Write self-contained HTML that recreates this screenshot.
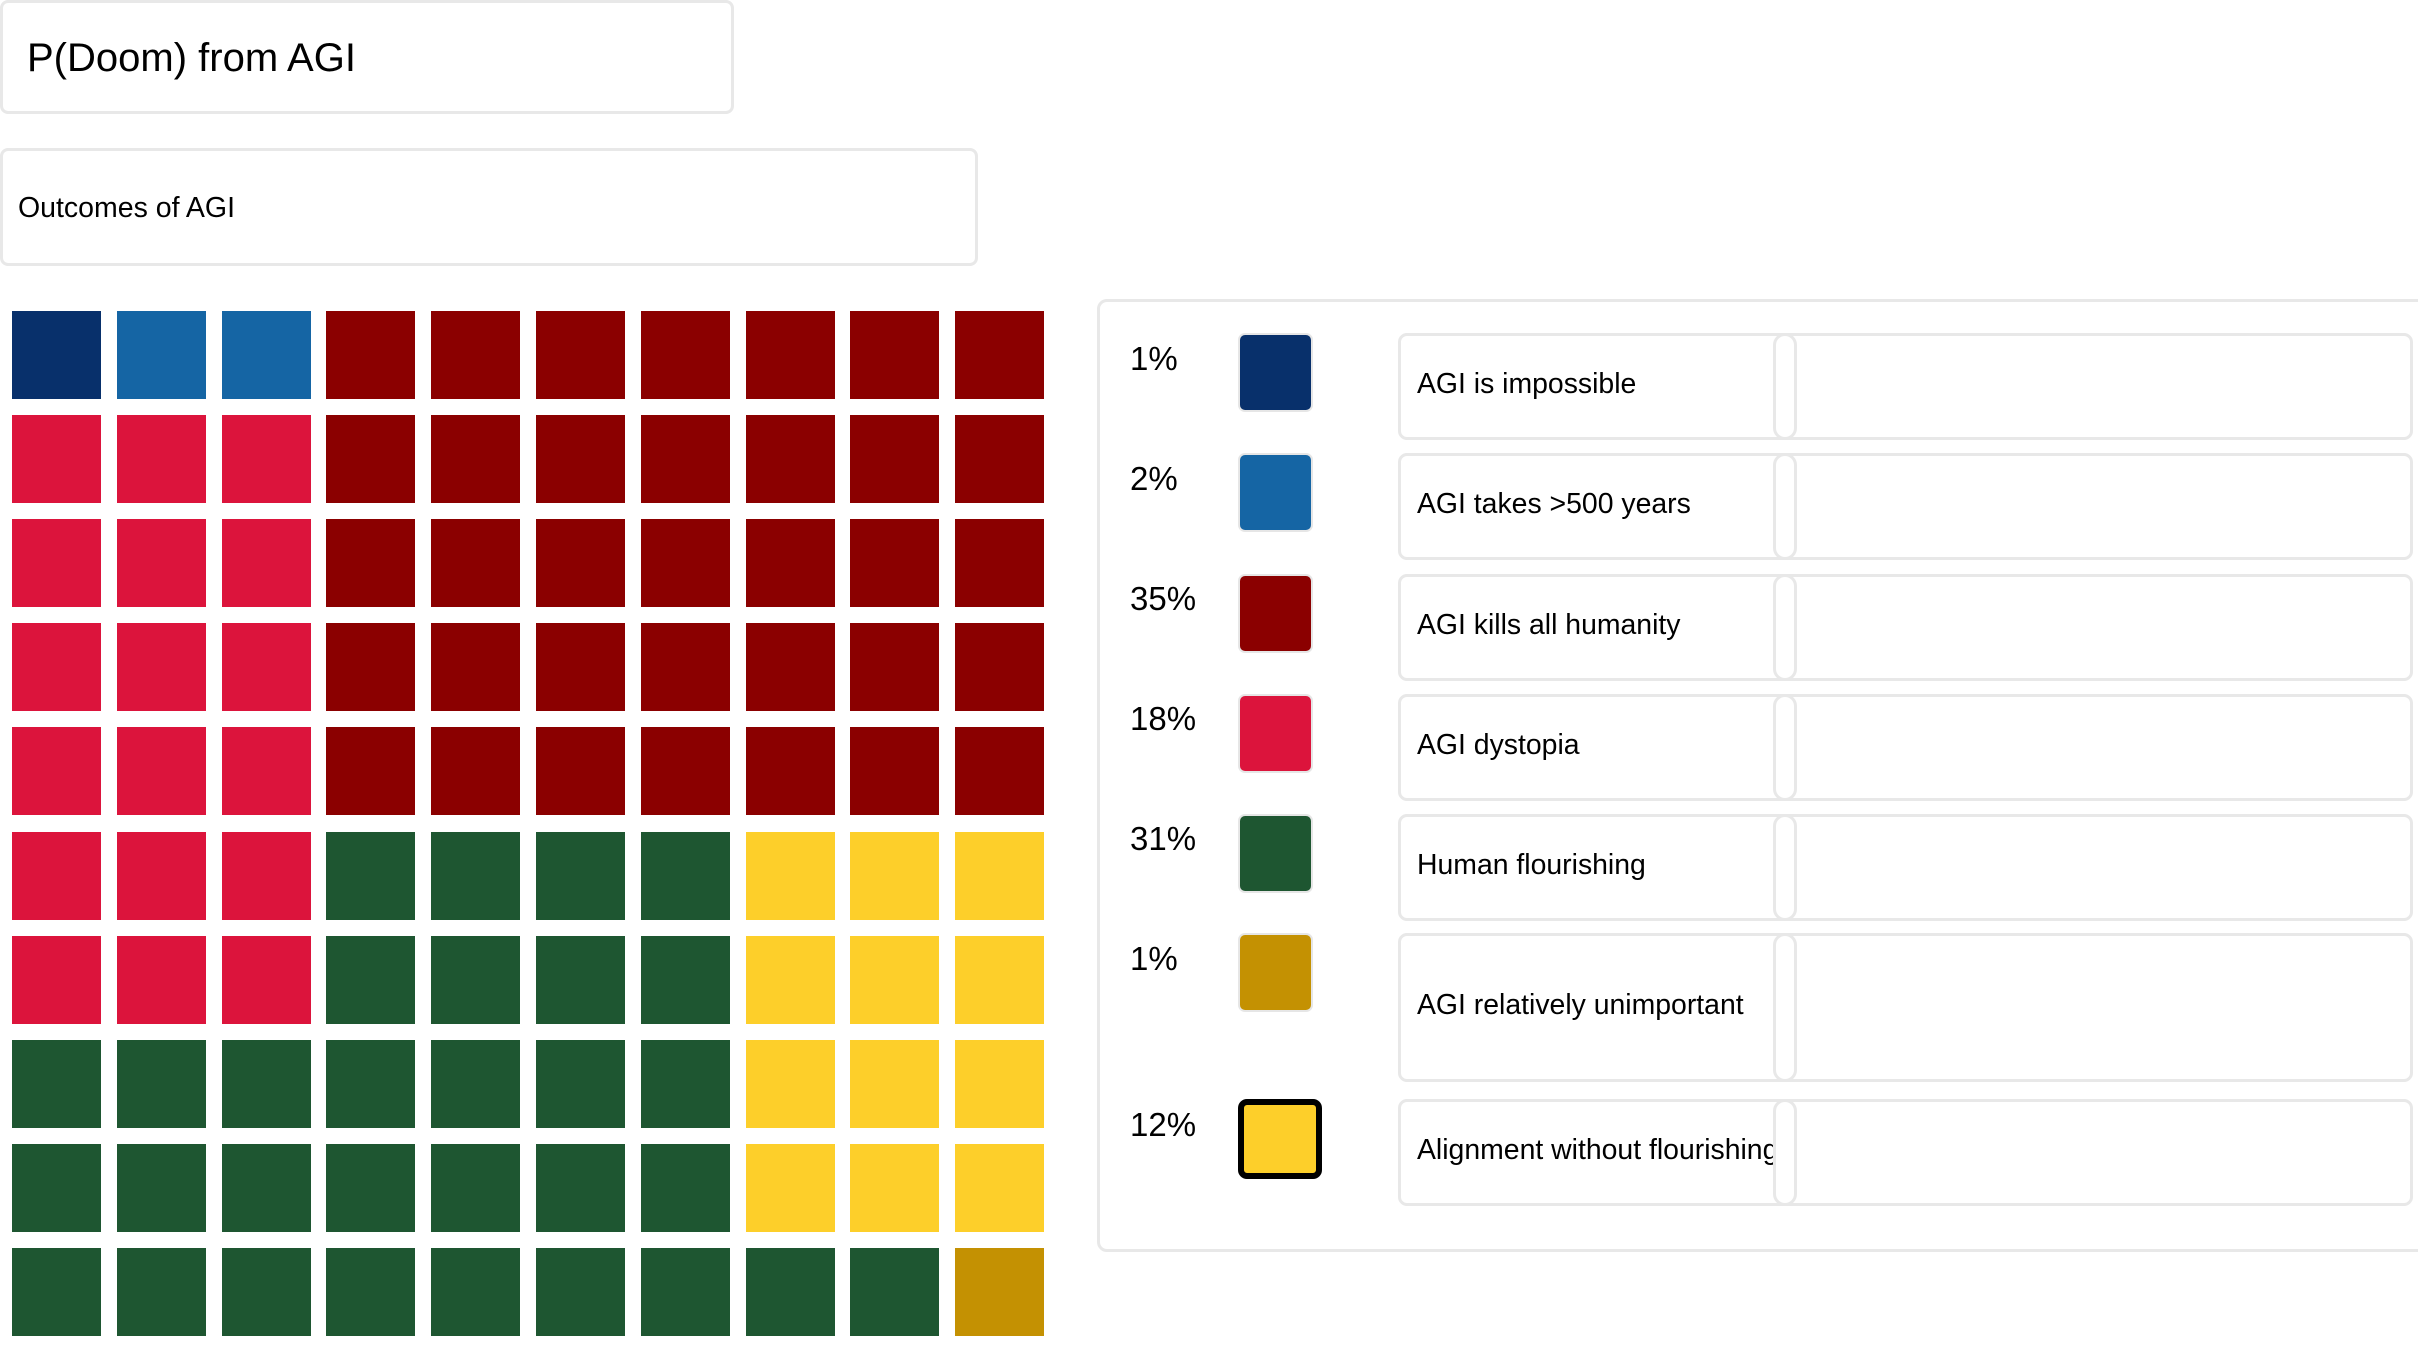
<!DOCTYPE html>
<html><head><meta charset="utf-8"><style>
*{margin:0;padding:0;box-sizing:border-box}
body{width:2418px;height:1348px;background:#fff;position:relative;overflow:hidden;font-family:"Liberation Sans",sans-serif;color:#000}
.box{position:absolute;border:3px solid #e8e8e8;border-radius:8px;background:#fff}
.sq{position:absolute;width:89px;height:88px}
.pct{position:absolute;left:1130px;font-size:33px;line-height:33px}
.sw{position:absolute;left:1238px;width:75px;height:79px;border-radius:7px;border:2px solid #e6e6e6}
.lb{position:absolute;left:1398px;width:1015px;border:3px solid #e8e8e8;border-radius:9px}
.lt{position:absolute;left:16px;top:-4px;bottom:0;width:356px;overflow:hidden;white-space:nowrap;font-size:28.4px;display:flex;align-items:center}
.dv{position:absolute;left:372px;top:-3px;bottom:-3px;width:24px;border:3px solid #e8e8e8;border-radius:12px;background:#fff}
</style></head><body>
<div class="box" style="left:0;top:0;width:734px;height:114px"></div>
<div style="position:absolute;left:27px;top:34px;font-size:40px;line-height:48px">P(Doom) from AGI</div>
<div class="box" style="left:0;top:148px;width:978px;height:118px"></div>
<div style="position:absolute;left:18px;top:192px;font-size:28.5px;line-height:32px">Outcomes of AGI</div>
<div id="grid"></div>
<div class="box" style="left:1097px;top:299px;width:1340px;height:953px;border-radius:10px"></div>

<div class="pct" style="top:342px">1%</div>
<div class="sw" style="top:333px;background:#08306b"></div>
<div class="lb" style="top:333px;height:107px"><div class="lt">AGI is impossible</div><div class="dv"></div></div>

<div class="pct" style="top:462px">2%</div>
<div class="sw" style="top:453px;background:#1565a4"></div>
<div class="lb" style="top:453px;height:107px"><div class="lt">AGI takes &gt;500 years</div><div class="dv"></div></div>

<div class="pct" style="top:582px">35%</div>
<div class="sw" style="top:574px;background:#8b0000"></div>
<div class="lb" style="top:574px;height:107px"><div class="lt">AGI kills all humanity</div><div class="dv"></div></div>

<div class="pct" style="top:702px">18%</div>
<div class="sw" style="top:694px;background:#dc143c"></div>
<div class="lb" style="top:694px;height:107px"><div class="lt">AGI dystopia</div><div class="dv"></div></div>

<div class="pct" style="top:822px">31%</div>
<div class="sw" style="top:814px;background:#1e5631"></div>
<div class="lb" style="top:814px;height:107px"><div class="lt">Human flourishing</div><div class="dv"></div></div>

<div class="pct" style="top:942px">1%</div>
<div class="sw" style="top:933px;background:#c49102"></div>
<div class="lb" style="top:933px;height:149px"><div class="lt">AGI relatively unimportant</div><div class="dv"></div></div>

<div class="pct" style="top:1108px">12%</div>
<div class="sw" style="top:1099px;width:84px;height:80px;background:#fdcf2a;border:6px solid #000;border-radius:9px"></div>
<div class="lb" style="top:1099px;height:107px"><div class="lt">Alignment without flourishing</div><div class="dv"></div></div>

<script>
var C={n:"#08306b",b:"#1565a4",r:"#8b0000",c:"#dc143c",g:"#1e5631",y:"#fdcf2a",o:"#c49102"};
var rows=["nbbrrrrrrr","cccrrrrrrr","cccrrrrrrr","cccrrrrrrr","cccrrrrrrr","cccggggyyy","cccggggyyy","gggggggyyy","gggggggyyy","gggggggggo"];
var h="";
for(var i=0;i<10;i++)for(var j=0;j<10;j++){
h+='<div class="sq" style="left:'+(12+j*104.8).toFixed(1)+'px;top:'+(311+i*104.1).toFixed(1)+'px;background:'+C[rows[i][j]]+'"></div>';}
document.getElementById("grid").innerHTML=h;
</script>
</body></html>
